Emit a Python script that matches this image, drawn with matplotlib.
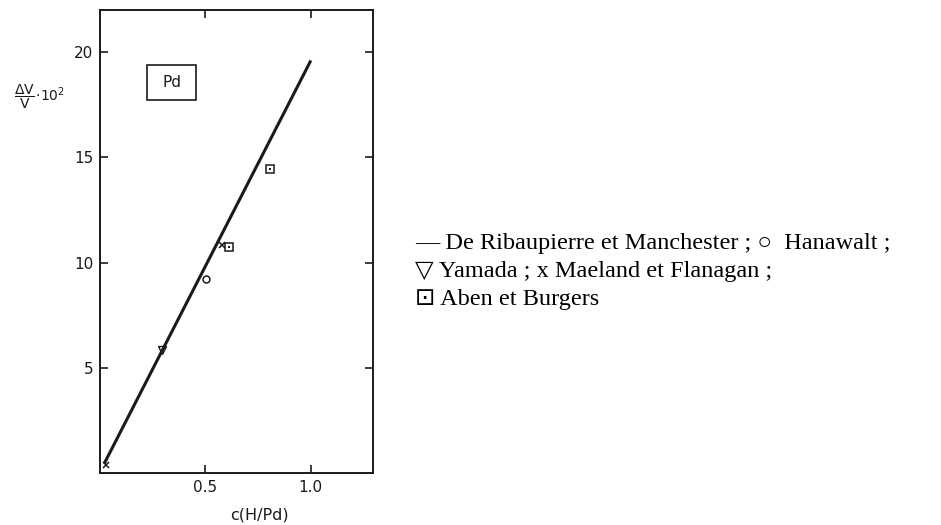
import numpy as np
import matplotlib
matplotlib.use("Agg")
import matplotlib.pyplot as plt
from matplotlib.patches import Rectangle

# fitted line (De Ribaupierre et Manchester)
line_x = [0.02, 1.0]
line_y = [0.45, 19.6]

# measured points
hanawalt_x = [0.503]
hanawalt_y = [9.22]
yamada_x = [0.292]
yamada_y = [5.85]
maeland_x = [0.03, 0.578]
maeland_y = [0.40, 10.82]
aben_x = [0.614, 0.806]
aben_y = [10.74, 14.46]

xticks = [0.5, 1.0]
xtick_labels = ["0.5", "1.0"]
yticks = [5, 10, 15, 20]

ink = "#1a1a1a"
plt.rcParams['font.family'] = ['DejaVu Sans']
plt.rcParams['mathtext.default'] = 'regular'

fig = plt.figure(figsize=(9.41, 5.25), dpi=100)
ax = fig.add_axes([0.1063, 0.099, 0.2901, 0.882])

ax.plot(line_x, line_y, '-', color=ink, linewidth=2.2, solid_capstyle='butt')
ax.plot(hanawalt_x, hanawalt_y, 'o', ms=5, mfc='none', mec=ink, mew=1.1)
ax.plot(yamada_x, yamada_y, 'v', ms=6, mfc='none', mec=ink, mew=1.0)
ax.plot(maeland_x, maeland_y, 'x', ms=5, mec=ink, mew=1.1)
ax.plot(aben_x, aben_y, 's', ms=6, mfc='none', mec=ink, mew=1.1)
ax.plot(aben_x, aben_y, 's', ms=2, mfc=ink, mec=ink, mew=0)

ax.set_xlim(0, 1.295)
ax.set_ylim(0, 22)
ax.set_xticks(xticks)
ax.set_xticklabels(xtick_labels)
ax.set_yticks(yticks)
ax.tick_params(direction='in', length=6, width=1.2, colors=ink, labelsize=11,
               top=True, right=True, pad=5)
for s in ax.spines.values():
    s.set_linewidth(1.4)
    s.set_color(ink)

# Pd box
ax.add_patch(Rectangle((0.224, 17.74), 0.233, 1.63, fill=False, ec=ink, lw=1.2))
ax.text(0.34, 18.55, "Pd", ha='center', va='center', fontsize=11, color=ink)
ax.text(0.757, -2.0, "c(H/Pd)", ha='center', va='center', fontsize=11.5,
        color=ink, clip_on=False)

fig.text(0.015, 1 - 97 / 525, r"$\dfrac{\Delta V}{V}\!\cdot\!10^2$", ha='left',
         va='center', fontsize=10, color=ink)

legend_lines = [
    "— De Ribaupierre et Manchester ; ○  Hanawalt ;",
    "▽ Yamada ; x Maeland et Flanagan ;",
    "⊡ Aben et Burgers",
]
for i, t in enumerate(legend_lines):
    fig.text(415 / 941, 1 - (243 + 28 * i) / 525, t, ha='left', va='center',
             fontsize=17.5, color='black',
             family=['Liberation Serif', 'DejaVu Sans'])

fig.savefig("out.png", dpi=100)
